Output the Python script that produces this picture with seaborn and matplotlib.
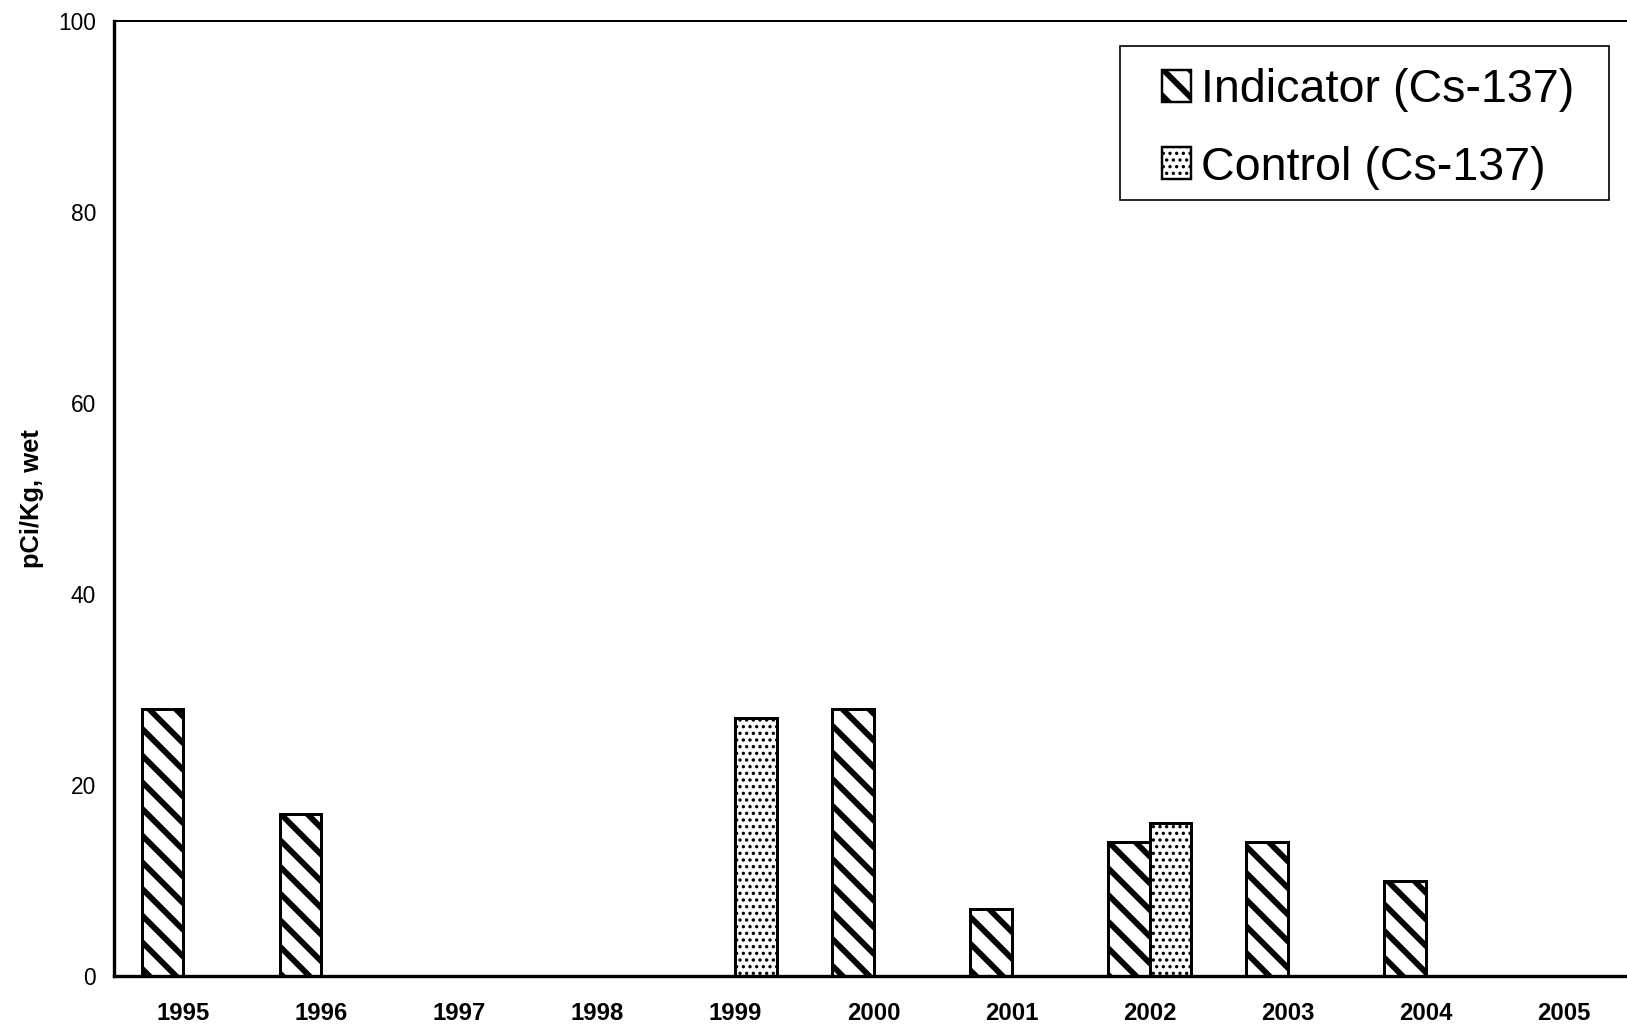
#!/usr/bin/env python3

import matplotlib
matplotlib.use("Agg")
import matplotlib.pyplot as plt
import numpy as np
import pandas as pd
import seaborn as sns
from matplotlib.patches import Rectangle

# Values (pCi/Kg, wet); None = no bar that year
years = ["1995", "1996", "1997", "1998", "1999", "2000",
         "2001", "2002", "2003", "2004", "2005"]
indicator = [28, 17, None, None, None, 28, 7, 14, 14, 10, None]
control = [None, None, None, None, 27, None, None, 16, None, None, None]
series = ["Indicator (Cs-137)", "Control (Cs-137)"]
y_ticks = [0, 20, 40, 60, 80, 100]

rows = []
for name, vals in zip(series, [indicator, control]):
    for yr, v in zip(years, vals):
        if v is not None:
            rows.append({"Year": yr, "Series": name, "Value": v})
data = pd.DataFrame(rows)

sns.set_style("white")
plt.rcParams["font.family"] = ["Liberation Sans", "DejaVu Sans"]
plt.rcParams["axes.edgecolor"] = "black"
plt.rcParams["hatch.color"] = "black"
plt.rcParams["text.color"] = "black"
plt.rcParams["axes.labelcolor"] = "black"
plt.rcParams["xtick.color"] = "black"
plt.rcParams["ytick.color"] = "black"

# dpi 80 so the hatch spacing comes out close to the scan
DPI = 80
fig = plt.figure(figsize=(1627 / DPI, 1026 / DPI), dpi=DPI)
ax = fig.add_axes([114 / 1627, 1 - 976 / 1026, 1519 / 1627, 955 / 1026])

sns.barplot(
    data=data, x="Year", y="Value", hue="Series",
    order=years, hue_order=series,
    palette=["white", "white"], saturation=1,
    edgecolor="black", linewidth=2.7, width=0.6,
    errorbar=None, legend=False, ax=ax
)

# Hatching: diagonal stripes for indicator, stipple for control
hatches = ["\\", ".."]
hatch_lw = [5.2, 1.8]
for cont, h, lw in zip(ax.containers, hatches, hatch_lw):
    for bar in cont:
        bar.set_hatch(h)
        if hasattr(bar, "set_hatch_linewidth"):
            bar.set_hatch_linewidth(lw)

# Axis range / ticks
ax.set(xlim=(-0.5, len(years) - 0.5), ylim=(0, 100), yticks=y_ticks)
ax.set_xticks(np.arange(-0.5, len(years)), minor=True)
ax.tick_params(axis="x", which="major", length=0, pad=23,
               labelsize=21.5)
ax.tick_params(axis="x", which="minor", length=6.3, width=1.8,
               direction="out")
ax.tick_params(axis="y", length=7.2, width=1.8, direction="out",
               pad=9, labelsize=20.5)
for lab in ax.get_xticklabels():
    lab.set_fontweight("bold")

ax.set_xlabel("")
ax.set_ylabel("pCi/Kg, wet", fontsize=23, fontweight="bold")
ax.yaxis.set_label_coords(-0.046, 0.5)

# Spines (right side falls outside the figure)
ax.spines["left"].set_linewidth(3.0)
ax.spines["bottom"].set_linewidth(3.0)
ax.spines["top"].set_linewidth(1.8)
ax.spines["right"].set_visible(False)
ax.grid(False)

# Legend, with a frame that has more room at the sides than at top/bottom
handles = [c.patches[0] for c in ax.containers]
leg = ax.legend(
    handles, series, loc="upper right",
    bbox_to_anchor=(1574 / 1627, 1 - 68 / 1026),
    bbox_transform=fig.transFigure, borderaxespad=0, borderpad=0,
    frameon=False, fontsize=42, handlelength=0.64, handleheight=0.68,
    handletextpad=0.2, labelspacing=0.72
)
for hdl, h, lw in zip(leg.legend_handles, hatches, hatch_lw):
    hdl.set_hatch(h)
    hdl.set_linewidth(2.2)
    if hasattr(hdl, "set_hatch_linewidth"):
        hdl.set_hatch_linewidth(lw)

fig.canvas.draw()
bb = leg.get_window_extent().transformed(fig.transFigure.inverted())
pl, pr, pt, pb = 42 / 1627, 35 / 1627, 22 / 1026, 10 / 1026
fig.add_artist(Rectangle(
    (bb.x0 - pl, bb.y0 - pb), bb.width + pl + pr, bb.height + pt + pb,
    transform=fig.transFigure, fill=False, edgecolor="black", linewidth=1.5
))

fig.savefig("out.png", dpi=DPI)
